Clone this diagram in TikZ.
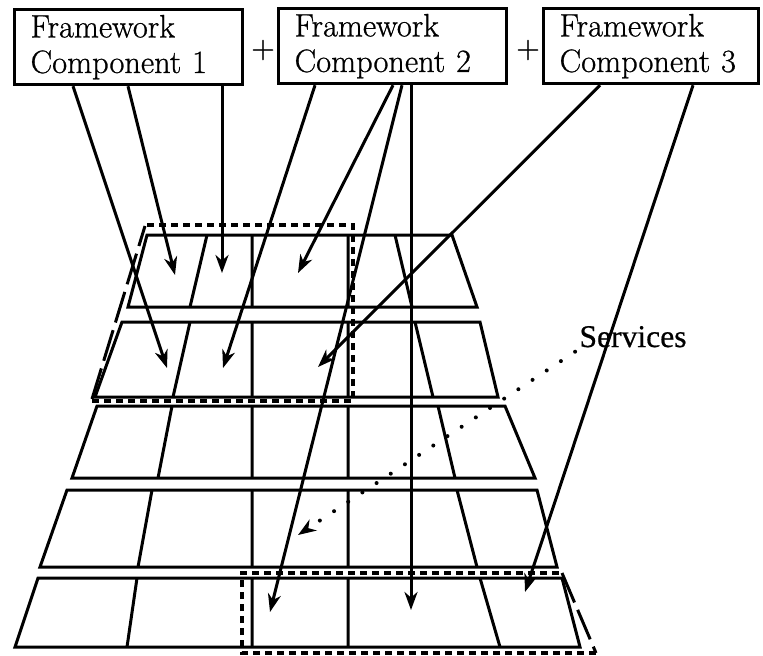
\documentclass[tikz,border=0pt]{standalone}
\usepackage{fontspec}
\newfontfamily\timesfont[FakeBold=0.6]{Liberation Serif}
\newfontfamily\boxfont[FakeBold=0.8]{Latin Modern Roman}
\usetikzlibrary{arrows.meta,calc}
\begin{document}
\begin{tikzpicture}[x=0.5pt,y=-0.5pt]
\tikzset{
 fbox/.style={draw, line width=1.6pt, rectangle, anchor=north west, inner xsep=8pt, inner ysep=0pt, minimum height=37.5pt, align=left, font=\boxfont\fontsize{16.2}{17.8}\selectfont},
 gridln/.style={line width=1.5pt, line join=miter},
 arr/.style={line width=1.5pt, -{Stealth[length=9pt,width=6.5pt,inset=2.8pt]}},
 sdash/.style={line width=1.8pt, dash pattern=on 3.5pt off 2.5pt},
 ldash/.style={line width=1.5pt, dash pattern=on 16pt off 4pt},
 dotln/.style={line width=2pt, line cap=round, dash pattern=on 0pt off 8.5pt, -{Stealth[length=9pt,width=6.5pt,inset=2.8pt]}},
 plus/.style={font=\boxfont\fontsize{16.2}{17.8}\selectfont, inner sep=0pt},
 svc/.style={font=\timesfont\fontsize{15.8}{18}\selectfont, inner sep=2pt, anchor=base}
}
\useasboundingbox (0,0) rectangle (763,655);

% component boxes
\node[fbox, text width=98pt] (c1) at (13,8) {Framework\\Component~1};
\node[fbox, text width=98pt] (c2) at (277,7) {Framework\\Component~2};
\node[fbox, text width=91.5pt] (c3) at (542,7) {Framework\\Component~3};
\node[plus] (p1) at (263,50) {+};
\node[plus] (p2) at (528,50) {+};

% grid rows
\draw[gridln] (147,235) -- (452,235) -- (477,307) -- (128,307) -- cycle;
\draw[gridln] (207,235) -- (190,307) (252,235) -- (252,307) (348,235) -- (348,307) (395,235) -- (412,307);
\draw[gridln] (122,322) -- (480,322) -- (498,397) -- (95,397) -- cycle;
\draw[gridln] (190,322) -- (173,397) (252,322) -- (252,397) (348,322) -- (348,397) (415,322) -- (433,397);
\draw[gridln] (97,406) -- (505,406) -- (535,478) -- (72,478) -- cycle;
\draw[gridln] (172,406) -- (158,478) (252,406) -- (252,478) (348,406) -- (348,478) (438,406) -- (455,478);
\draw[gridln] (67,490) -- (537,490) -- (557,567) -- (40,567) -- cycle;
\draw[gridln] (152,490) -- (138,567) (252,490) -- (252,567) (348,490) -- (348,567) (457,490) -- (477,567);
\draw[gridln] (38,578) -- (562,578) -- (580,647) -- (15,647) -- cycle;
\draw[gridln] (137,578) -- (127,647) (252,578) -- (252,647) (348,578) -- (348,647) (480,578) -- (500,647);

% dashed regions
\draw[sdash] (147,225) -- (353,225) -- (353,401) -- (92,401);
\draw[ldash] (92,399) -- (145,226);
\draw[sdash] (596,653) -- (242,653) -- (242,573) -- (562,573);
\draw[ldash] (562,573) -- (596,653);

% services label
\node[svc] (s) at (633,347) {Services};

% arrow tips
\coordinate (t1) at (167,368);
\coordinate (t2) at (175,275);
\coordinate (t3) at (222,273);
\coordinate (t4) at (223,368);
\coordinate (t5) at (298,273);
\coordinate (t6) at (270,612);
\coordinate (t7) at (411,610);
\coordinate (t8) at (318,367);
\coordinate (t9) at (525,592);
\coordinate (dt) at (298,535);

% arrows
\draw[arr] ([xshift=30pt]c1.south west) -- (t1);
\draw[arr] ([xshift=57.5pt]c1.south west) -- (t2);
\draw[arr] ([xshift=104.5pt]c1.south west) -- (t3);
\draw[arr] ([xshift=19pt]c2.south west) -- (t4);
\draw[arr] ([xshift=58pt]c2.south west) -- (t5);
\draw[arr] ([xshift=62.5pt]c2.south west) -- (t6);
\draw[arr] ([xshift=67pt]c2.south west) -- (t7);
\draw[arr] ([xshift=29pt]c3.south west) -- (t8);
\draw[arr] ([xshift=75.5pt]c3.south west) -- (t9);

% dotted pointer
\draw[dotln] (s.south west) -- (dt);
\end{tikzpicture}
\end{document}
